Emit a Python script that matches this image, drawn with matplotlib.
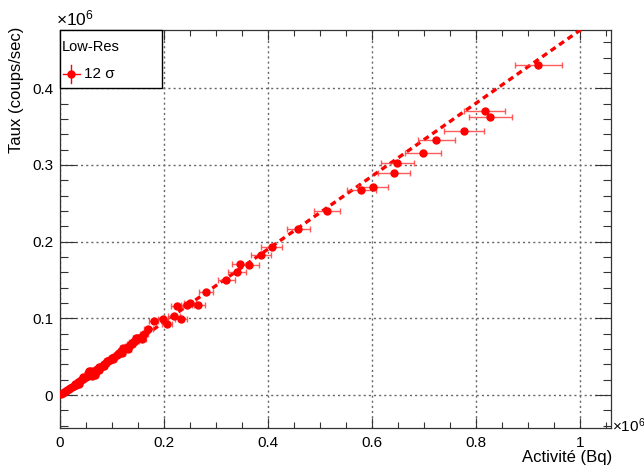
import matplotlib
matplotlib.use("Agg")
import matplotlib.pyplot as plt
from matplotlib.ticker import MultipleLocator, FixedLocator, FuncFormatter
from matplotlib.patches import Rectangle
from matplotlib.lines import Line2D

plt.rcParams['font.family'] = ['Liberation Sans', 'DejaVu Sans']
plt.rcParams['mathtext.fontset'] = 'custom'
plt.rcParams['mathtext.rm'] = 'Liberation Sans'
plt.rcParams['mathtext.it'] = 'Liberation Sans:italic'

# ---- data (units of 1e6) ----
activity = [0.920, 0.817, 0.828, 0.777, 0.724, 0.698, 0.649, 0.643, 0.602, 0.580,
            0.514, 0.458, 0.407, 0.387, 0.364, 0.347, 0.341, 0.320, 0.281, 0.266,
            0.250, 0.245, 0.225, 0.233, 0.219, 0.198, 0.180, 0.206, 0.170, 0.161,
            0.155, 0.150, 0.145, 0.140, 0.138, 0.136, 0.132, 0.127, 0.122, 0.118,
            0.114, 0.112, 0.109, 0.104, 0.100, 0.096, 0.092, 0.088, 0.084, 0.081,
            0.078, 0.075, 0.072, 0.069, 0.068, 0.066, 0.063, 0.060, 0.058, 0.056,
            0.054, 0.053, 0.050, 0.047, 0.044, 0.041, 0.038, 0.035, 0.032, 0.029,
            0.026, 0.023, 0.020, 0.017, 0.014, 0.011, 0.008, 0.005, 0.002,
            0.056, 0.062, 0.066, 0.075, 0.090, 0.120, 0.147, 0.158, 0.045, 0.030,
            0.085, 0.070, 0.102, 0.130, 0.036, 0.060]
rate = [0.431, 0.371, 0.362, 0.344, 0.332, 0.315, 0.302, 0.290, 0.271, 0.268,
        0.240, 0.216, 0.193, 0.182, 0.170, 0.171, 0.160, 0.150, 0.134, 0.117,
        0.120, 0.117, 0.116, 0.099, 0.103, 0.099, 0.097, 0.093, 0.086, 0.080,
        0.076, 0.074, 0.071, 0.069, 0.067, 0.066, 0.064, 0.061, 0.061, 0.057,
        0.055, 0.053, 0.052, 0.050, 0.048, 0.046, 0.044, 0.042, 0.040, 0.038,
        0.037, 0.036, 0.034, 0.033, 0.026, 0.031, 0.030, 0.027, 0.028, 0.026,
        0.029, 0.025, 0.024, 0.022, 0.021, 0.019, 0.018, 0.017, 0.015, 0.014,
        0.012, 0.011, 0.009, 0.008, 0.007, 0.005, 0.004, 0.002, 0.001,
        0.031, 0.025, 0.028, 0.032, 0.045, 0.055, 0.075, 0.073, 0.023, 0.013,
        0.038, 0.030, 0.047, 0.060, 0.015, 0.031]
activity_err = [0.045, 0.040, 0.041, 0.038, 0.035, 0.034, 0.032, 0.031, 0.029, 0.028,
                0.025, 0.022, 0.020, 0.019, 0.018, 0.017, 0.017, 0.016, 0.014, 0.013,
                0.012, 0.012, 0.011, 0.011, 0.011, 0.010, 0.009, 0.010, 0.008, 0.008,
                0.008, 0.007, 0.007, 0.007, 0.007, 0.007, 0.006, 0.006, 0.006, 0.006,
                0.006, 0.005, 0.005, 0.005, 0.005, 0.005, 0.005, 0.004, 0.004, 0.004,
                0.004, 0.004, 0.004, 0.003, 0.003, 0.003, 0.003, 0.003, 0.003, 0.003,
                0.003, 0.003, 0.002, 0.002, 0.002, 0.002, 0.002, 0.002, 0.002, 0.001,
                0.001, 0.001, 0.001, 0.001, 0.001, 0.001, 0.000, 0.000, 0.000,
                0.003, 0.003, 0.003, 0.004, 0.004, 0.006, 0.007, 0.008, 0.002, 0.001,
                0.004, 0.003, 0.005, 0.006, 0.002, 0.003]
fit_slope = 0.4755
fit_x = [0.0, 1.02]
x_ticks = [0, 0.2, 0.4, 0.6, 0.8, 1.0]
y_ticks = [0, 0.1, 0.2, 0.3, 0.4]
legend_title = "Low-Res"
legend_label = "12 σ"

fig = plt.figure(figsize=(6.44, 4.65), dpi=100)
ax = fig.add_axes([60/644, 37/465, 551/644, 398/465])
ax.set_xlim(0, 1.06)
ax.set_ylim(-0.043, 0.476)

# grid
ax.grid(True, which='major', color='#666666', linestyle=(0, (1.5, 2.2)), linewidth=1.0)
ax.set_axisbelow(True)

# fit line
ax.plot(fit_x, [fit_slope * v for v in fit_x], color='red', lw=2.4,
        linestyle=(0, (1.8, 1.3)), zorder=3)

# data points
ax.errorbar(activity, rate, xerr=activity_err, fmt='o', color='red', ms=5.0,
            ecolor=(1, 0.25, 0.25, 0.85), elinewidth=1.0, capsize=2.2, capthick=1.0,
            zorder=4)

# ticks
ax.xaxis.set_major_locator(FixedLocator(x_ticks))
ax.yaxis.set_major_locator(FixedLocator(y_ticks))
ax.xaxis.set_minor_locator(MultipleLocator(0.05))
ax.yaxis.set_minor_locator(MultipleLocator(0.02))
fmt = FuncFormatter(lambda v, p: ('%g' % round(v, 3)))
ax.xaxis.set_major_formatter(fmt)
ax.yaxis.set_major_formatter(fmt)
ax.tick_params(axis='both', which='both', direction='in', top=True, right=True,
               labelsize=11, color='#333333', width=0.8)
ax.tick_params(axis='x', which='major', length=7.5, pad=6)
ax.tick_params(axis='x', which='minor', length=4)
ax.tick_params(axis='y', which='major', length=11.5, pad=5)
ax.tick_params(axis='y', which='minor', length=5.5)
for s in ax.spines.values():
    s.set_color('#333333')
    s.set_linewidth(0.9)

# labels
fig.text(17/644, 1 - 27/465, "Taux (coups/sec)", rotation=90, fontsize=12,
         ha='center', va='top')
fig.text(612/644, 1 - 462/465, "Activité (Bq)", fontsize=12, ha='right', va='baseline')
fig.text(56/644, 1 - 25/465, r"$\times10^{6}$", fontsize=12.5, ha='left', va='baseline')
fig.text(612/644, 1 - 432/465, r"$\times10^{6}$", fontsize=11, ha='left', va='baseline')

# legend (manual box)
lx0, ly0 = 0.0, 1 - 58/398
lw_, lh_ = 102/551, 58/398
ax.add_patch(Rectangle((lx0, ly0), lw_, lh_, transform=ax.transAxes, facecolor='white',
                       edgecolor='black', lw=1.0, zorder=10, clip_on=False))
ax.text(1.5/551, 1 - 17/398, legend_title, transform=ax.transAxes, fontsize=10.5,
        ha='left', va='center', zorder=11)
ly = 1 - 44/398
ax.add_line(Line2D([3/551, 20/551], [ly, ly], transform=ax.transAxes, color='red',
                   lw=1.0, zorder=11, clip_on=False))
ax.add_line(Line2D([11/551, 11/551], [ly - 9/398, ly + 9/398], transform=ax.transAxes,
                   color='red', lw=1.0, zorder=11, clip_on=False))
ax.add_line(Line2D([11/551], [ly], transform=ax.transAxes, color='red', marker='o',
                   ms=5.0, zorder=12, clip_on=False))
ax.text(24/551, ly, legend_label, transform=ax.transAxes, fontsize=11,
        ha='left', va='center', zorder=11)

fig.savefig("out.png", dpi=100)
